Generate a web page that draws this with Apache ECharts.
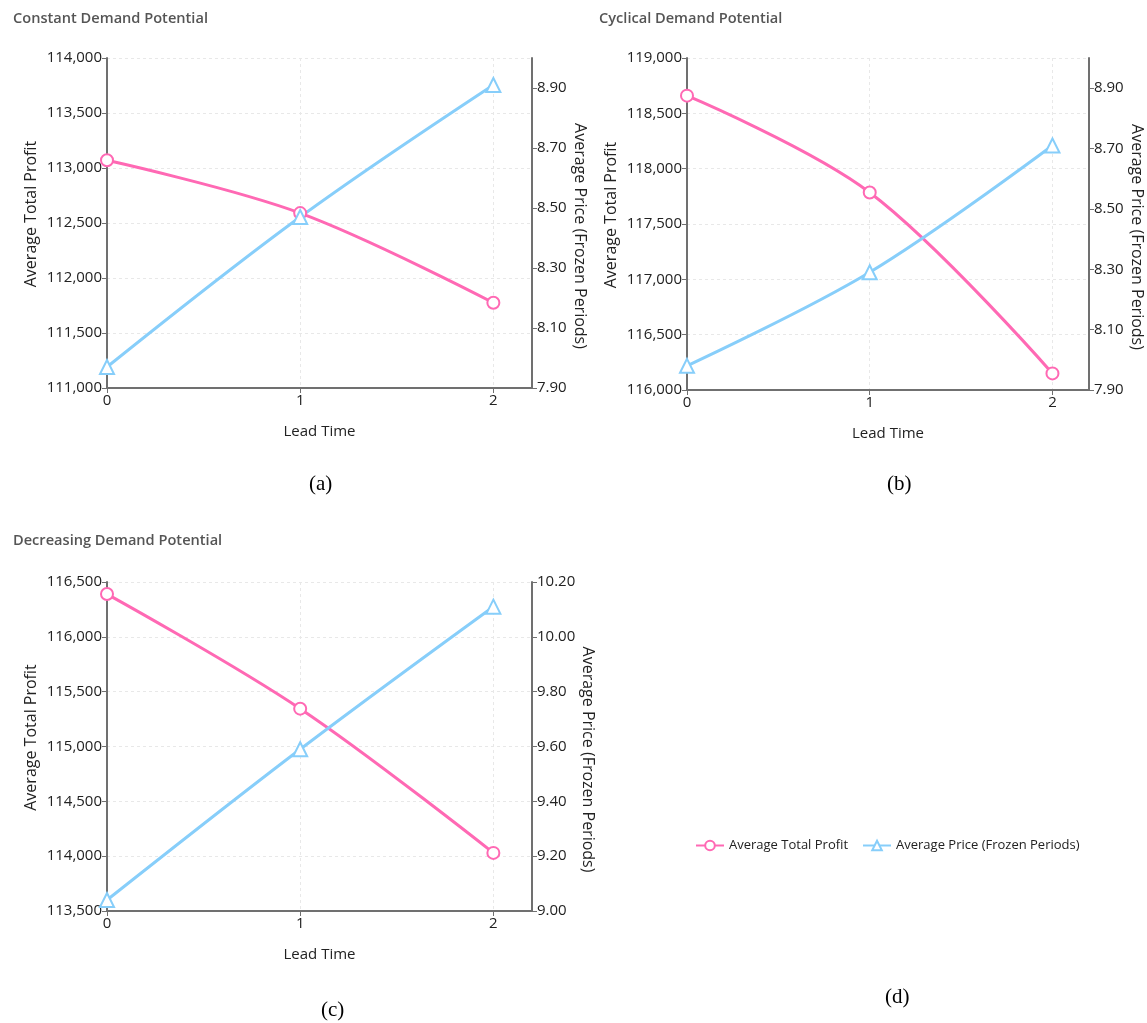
<!DOCTYPE html>
<html>
<head>
<meta charset="utf-8">
<script src="https://cdn.jsdelivr.net/npm/echarts@6/dist/echarts.min.js"></script>
<style>
html,body{margin:0;padding:0;background:#fff;}
#chart{width:1147px;height:1023px;}
</style>
</head>
<body>
<div id="chart"></div>
<script>
// ---- data ----
const leadTime = [0, 1, 2];
const leadTimeTicks = [0, 1, 2];
const profitConstant = [113070, 112590, 111775];
const priceConstant = [7.97, 8.47, 8.91];
const profitCyclical = [118660, 117785, 116150];
const priceCyclical = [7.98, 8.29, 8.71];
const profitDecreasing = [116390, 115345, 114030];
const priceDecreasing = [9.04, 9.59, 10.11];
const priceTicksAB = [7.9, 8.1, 8.3, 8.5, 8.7, 8.9];
const panelTitles = ['Constant Demand Potential', 'Cyclical Demand Potential', 'Decreasing Demand Potential'];
const captions = ['(a)', '(b)', '(c)', '(d)'];
const seriesNames = ['Average Total Profit', 'Average Price (Frozen Periods)'];

const FONT = 'Open Sans';
const PINK = '#ff69b4';
const BLUE = '#87cefa';
const AXIS_COLOR = '#707070';

function pairs(xs, ys) { return xs.map((x, i) => [x, ys[i]]); }

const grids = [
  {left: 107, top: 58, width: 425, height: 330, outerBoundsMode: 'none', containLabel: false},
  {left: 687, top: 58, width: 402, height: 332, outerBoundsMode: 'none', containLabel: false},
  {left: 107, top: 582, width: 425, height: 329, outerBoundsMode: 'none', containLabel: false}
];

const xAxes = grids.map((g, i) => ({
  type: 'value', gridIndex: i, min: 0, max: 2.2, interval: 1,
  name: 'Lead Time', nameLocation: 'middle', nameGap: 36,
  nameTextStyle: {fontFamily: FONT, fontSize: 15, color: '#222'},
  axisLine: {lineStyle: {color: AXIS_COLOR, width: 2}},
  axisTick: {show: true, length: 5, lineStyle: {color: AXIS_COLOR}, customValues: leadTimeTicks},
  axisLabel: {fontFamily: FONT, fontSize: 15, color: '#222', margin: 5, customValues: leadTimeTicks},
  splitLine: {show: true, lineStyle: {color: '#e8e8e8', type: [3, 3]}}
}));

const leftCfg = [
  {min: 111000, max: 114000},
  {min: 116000, max: 119000},
  {min: 113500, max: 116500}
];
const yLeft = leftCfg.map((c, i) => ({
  type: 'value', gridIndex: i, position: 'left', min: c.min, max: c.max, interval: 500,
  name: seriesNames[0], nameLocation: 'middle', nameGap: 68, nameRotate: 90,
  nameTextStyle: {fontFamily: FONT, fontSize: 16, color: '#222', padding: [0, 0, 0, 18]},
  axisLine: {show: true, lineStyle: {color: AXIS_COLOR, width: 2}},
  axisTick: {show: true, length: 5, lineStyle: {color: AXIS_COLOR}},
  axisLabel: {fontFamily: FONT, fontSize: 15, color: '#222', margin: 5,
    formatter: v => v.toLocaleString('en-US')},
  splitLine: {show: true, lineStyle: {color: '#e8e8e8', type: [3, 3]}}
}));

const rightBase = (i) => ({
  type: 'value', gridIndex: i, position: 'right',
  name: seriesNames[1], nameLocation: 'middle', nameGap: 40, nameRotate: -90,
  nameTextStyle: {fontFamily: FONT, fontSize: 16, color: '#222', padding: [0, 0, 0, 26]},
  axisLine: {show: true, lineStyle: {color: AXIS_COLOR, width: 2}},
  axisTick: {show: true, length: 5, lineStyle: {color: AXIS_COLOR}},
  axisLabel: {fontFamily: FONT, fontSize: 15, color: '#222', margin: 5,
    formatter: v => v.toFixed(2)},
  splitLine: {show: false}
});
const yRight = [
  Object.assign(rightBase(0), {min: 7.9, max: 9.0}),
  Object.assign(rightBase(1), {min: 7.9, max: 9.0}),
  Object.assign(rightBase(2), {min: 9.0, max: 10.2, interval: 0.2})
];
[0, 1].forEach(i => {
  yRight[i].axisLabel.customValues = priceTicksAB;
  yRight[i].axisTick.customValues = priceTicksAB;
});

const yAxes = [yLeft[0], yRight[0], yLeft[1], yRight[1], yLeft[2], yRight[2]];

const profits = [profitConstant, profitCyclical, profitDecreasing];
const prices = [priceConstant, priceCyclical, priceDecreasing];
const series = [];
for (let i = 0; i < 3; i++) {
  series.push({
    name: seriesNames[0], type: 'line', xAxisIndex: i, yAxisIndex: 2 * i,
    data: pairs(leadTime, profits[i]), smooth: 0.35,
    symbol: 'circle', symbolSize: 12, showAllSymbol: true,
    lineStyle: {color: PINK, width: 3},
    itemStyle: {color: '#fff', borderColor: PINK, borderWidth: 2},
    color: PINK
  });
  series.push({
    name: seriesNames[1], type: 'line', xAxisIndex: i, yAxisIndex: 2 * i + 1,
    data: pairs(leadTime, prices[i]), smooth: 0.35,
    symbol: 'triangle', symbolSize: 14,
    lineStyle: {color: BLUE, width: 3},
    itemStyle: {color: '#fff', borderColor: BLUE, borderWidth: 2},
    color: BLUE
  });
}

const titleFont = {fontFamily: FONT, fontSize: 14.6, fontWeight: 600, color: '#555'};
const capFont = {fontFamily: 'Liberation Serif', fontSize: 21, fontWeight: 'normal', color: '#000'};
const titles = [
  {text: panelTitles[0], left: 8, top: 6, textStyle: titleFont},
  {text: panelTitles[1], left: 594, top: 6, textStyle: titleFont},
  {text: panelTitles[2], left: 8, top: 528, textStyle: titleFont},
  {text: captions[0], left: 304, top: 469, textStyle: capFont},
  {text: captions[1], left: 882, top: 469, textStyle: capFont},
  {text: captions[2], left: 316, top: 995, textStyle: capFont},
  {text: captions[3], left: 880, top: 982, textStyle: capFont}
];

const chart = echarts.init(document.getElementById('chart'));
chart.setOption({
  animation: false,
  backgroundColor: '#fff',
  title: titles,
  legend: {
    data: seriesNames, left: 690, top: 834, itemWidth: 28, itemHeight: 12, itemGap: 14,
    textStyle: {fontFamily: FONT, fontSize: 13, color: '#222'}
  },
  grid: grids,
  xAxis: xAxes,
  yAxis: yAxes,
  series: series
});
</script>
</body>
</html>
